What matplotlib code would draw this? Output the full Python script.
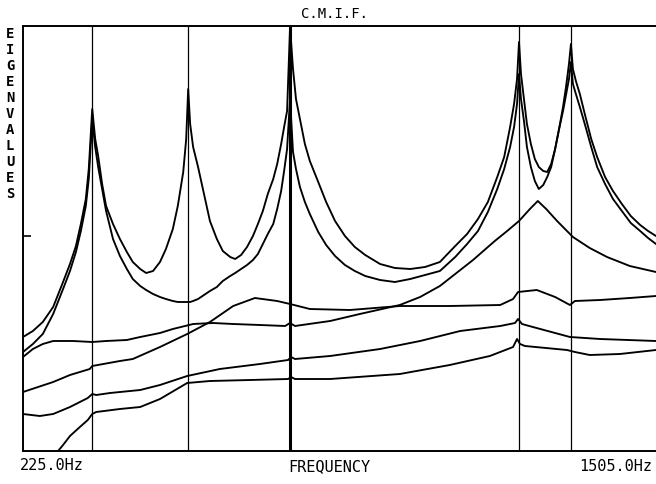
import numpy as np
import matplotlib
matplotlib.use("Agg")
import matplotlib.pyplot as plt

# frequency grid (Hz) for the two top eigenvalue curves
freq = [225, 245, 265, 286, 306, 320, 332, 342, 352, 358,
        365, 371, 377, 385, 393, 407, 421, 435, 447, 462,
        474, 488, 502, 514, 528, 538, 549, 555, 559, 563,
        569, 579, 591, 603, 617, 629, 644, 654, 666, 678,
        690, 700, 710, 720, 731, 739, 747, 753, 759, 765,
        771, 777, 785, 795, 805, 822, 838, 856, 876, 896,
        917, 947, 977, 1008, 1038, 1068, 1099, 1123, 1145, 1165,
        1184, 1198, 1210, 1218, 1224, 1228, 1232, 1238, 1244, 1252,
        1260, 1268, 1277, 1285, 1293, 1301, 1309, 1317, 1323, 1329,
        1333, 1337, 1343, 1351, 1361, 1374, 1386, 1402, 1418, 1436,
        1454, 1473, 1489, 1505]

eig1 = [114, 120, 129, 144, 169, 187, 205, 227, 252, 282,
        342, 312, 295, 267, 245, 227, 212, 199, 189, 182,
        178, 180, 189, 202, 222, 245, 279, 312, 362, 327,
        304, 284, 257, 230, 212, 200, 194, 192, 196, 204,
        215, 227, 240, 257, 272, 287, 307, 324, 340, 424,
        382, 352, 332, 307, 290, 269, 249, 230, 215, 204,
        196, 187, 183, 182, 184, 189, 205, 217, 232, 249,
        274, 294, 324, 347, 372, 409, 377, 352, 327, 307,
        292, 284, 280, 279, 287, 302, 322, 344, 364, 387,
        407, 382, 370, 357, 337, 312, 294, 274, 260, 247,
        235, 226, 220, 215]

eig2 = [99, 107, 117, 137, 162, 180, 199, 220, 245, 272,
        332, 304, 284, 262, 240, 212, 195, 182, 172, 165,
        161, 157, 154, 152, 150, 149, 149, 149, 149, 149,
        150, 152, 156, 160, 164, 170, 175, 178, 182, 186,
        191, 197, 207, 217, 227, 242, 260, 280, 302, 352,
        299, 282, 264, 249, 237, 219, 206, 195, 186, 180,
        175, 171, 169, 172, 176, 180, 194, 207, 220, 239,
        262, 282, 304, 324, 347, 377, 352, 330, 304, 284,
        270, 262, 266, 274, 284, 302, 322, 340, 356, 372,
        389, 367, 357, 344, 327, 304, 284, 267, 252, 240,
        228, 220, 213, 207]

# lower curves, each on its own frequency points
f3 = [225, 286, 320, 360, 365, 421, 447, 502, 557, 603, 650, 694, 739, 765,
      805, 886, 987, 1088, 1190, 1216, 1226, 1264, 1301, 1331, 1341, 1392, 1452, 1505]
eig3 = [59, 69, 76, 82, 85, 90, 92, 104, 117, 129, 145, 153, 150, 147,
        142, 141, 145, 145, 146, 152, 159, 161, 154, 146, 150, 151, 153, 155]

f4 = [225, 245, 265, 286, 326, 365, 393, 435, 462, 502, 528, 569, 609, 650,
      704, 755, 765, 775, 846, 906, 987, 1028, 1068, 1135, 1179, 1204, 1228,
      1250, 1266, 1283, 1305, 1337, 1371, 1406, 1452, 1505]
eig4 = [94, 102, 107, 110, 110, 109, 110, 111, 114, 118, 122, 127, 128, 127,
        126, 125, 128, 125, 130, 137, 146, 154, 165, 191, 210, 220, 230,
        242, 250, 242, 230, 214, 203, 194, 185, 179]

f5 = [225, 259, 286, 320, 356, 365, 373, 401, 462, 502, 557, 623, 704, 761,
      767, 775, 846, 947, 1028, 1109, 1190, 1220, 1226, 1234, 1256, 1331, 1392, 1505]
eig5 = [37, 35, 37, 44, 53, 57, 56, 58, 61, 66, 75, 82, 87, 91,
        94, 92, 95, 102, 110, 120, 125, 128, 132, 127, 124, 114, 112, 110]

f6 = [296, 306, 320, 340, 356, 365, 373, 421, 462, 502, 557, 603, 684, 761,
      767, 775, 846, 987, 1088, 1169, 1216, 1224, 1230, 1240, 1325, 1341, 1371, 1432, 1505]
eig6 = [0, 6, 15, 24, 31, 37, 39, 42, 44, 52, 68, 70, 71, 72,
        74, 72, 72, 77, 86, 95, 104, 112, 107, 105, 101, 99, 96, 97, 101]

# resonance markers
peaks = [365, 559, 765, 1228, 1333]

fig = plt.figure(figsize=(6.56, 4.85), dpi=100)
ax = fig.add_axes([23/656, 33/485, 633/656, 425/485])

for p in peaks:
    lw = 2.2 if p == 765 else 0.9
    ax.axvline(p, color='black', lw=lw)

for f, e in ((freq, eig1), (freq, eig2), (f3, eig3), (f4, eig4), (f5, eig5), (f6, eig6)):
    ax.plot(f, e, color='black', lw=1.35, solid_joinstyle='round')

ax.set_xlim(225, 1505)
ax.set_ylim(0, 425)
ax.set_xticks([])
ax.set_yticks([215])
ax.set_yticklabels([])
ax.tick_params(axis='y', direction='in', length=6, width=1.2)
for s in ('left', 'top', 'bottom'):
    ax.spines[s].set_linewidth(1.4)
ax.spines['right'].set_visible(False)

mono = 'DejaVu Sans Mono'
fig.text(335/656, 1 - 14/485, 'C.M.I.F.', ha='center', va='center',
         family=mono, fontsize=10)
fig.text(20/656, 1 - 466/485, '225.0Hz', ha='left', va='center',
         family=mono, fontsize=11)
fig.text(329/656, 1 - 467/485, 'FREQUENCY', ha='center', va='center',
         family=mono, fontsize=11)
fig.text(652/656, 1 - 467/485, '1505.0Hz', ha='right', va='center',
         family=mono, fontsize=11)
fig.text(10/656, 1 - 27/485, '\n'.join('EIGENVALUES'), ha='center', va='top',
         family=mono, fontsize=10, fontweight='bold', linespacing=1.18)

fig.savefig('out.png', dpi=100)
